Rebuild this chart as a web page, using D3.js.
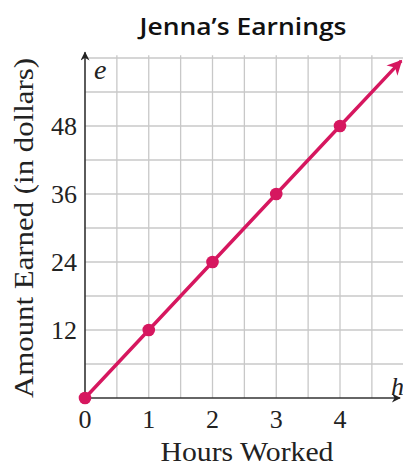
<!DOCTYPE html>
<html><head><meta charset="utf-8">
<script src="https://cdn.jsdelivr.net/npm/d3@7"></script>
<style>html,body{margin:0;padding:0;background:#fff;}svg{display:block;}</style>
</head><body>
<script>
const hours = [0, 1, 2, 3, 4];
const earnings = [0, 12, 24, 36, 48];
const xTicks = [0, 1, 2, 3, 4];
const yTicks = [12, 24, 36, 48];
const lineEnd = [4.96, 59.5];
const title = "Jenna\u2019s Earnings";
const xTitle = "Hours Worked";
const yTitle = "Amount Earned (in dollars)";

const W = 403, H = 466;
const svg = d3.select("body").append("svg").attr("width", W).attr("height", H);
const x = d3.scaleLinear().domain([0, 4]).range([85, 340]);
const y = d3.scaleLinear().domain([0, 48]).range([398, 126]);
const serif = "'Liberation Serif','Times New Roman',serif";

const defs = svg.append("defs");
function marker(id, color, w, h) {
  defs.append("marker").attr("id", id).attr("viewBox", "0 0 10 10").attr("refX", 9).attr("refY", 5)
    .attr("markerWidth", w).attr("markerHeight", h).attr("orient", "auto").attr("markerUnits", "userSpaceOnUse")
    .append("path").attr("d", "M0,0 L10,5 L0,10 L3,5 Z").attr("fill", color);
}
marker("ax", "#222", 13, 9);
marker("ln", "#d6175f", 19, 15);

// grid
const gx = d3.range(0.5, 5.01, 0.5);
const gy = d3.range(6, 60.1, 6);
svg.append("g").selectAll("line").data(gx).join("line")
  .attr("x1", d => x(d)).attr("x2", d => x(d)).attr("y1", y(60.5)).attr("y2", y(0))
  .attr("stroke", "#c8c8c8").attr("stroke-width", 1.3);
svg.append("g").selectAll("line").data(gy).join("line")
  .attr("x1", x(0)).attr("x2", W).attr("y1", d => y(d)).attr("y2", d => y(d))
  .attr("stroke", "#c8c8c8").attr("stroke-width", 1.3);

// axes
svg.append("line").attr("x1", x(0)).attr("y1", y(0)).attr("x2", x(0)).attr("y2", y(61))
  .attr("stroke", "#333").attr("stroke-width", 1.6).attr("marker-end", "url(#ax)");
svg.append("line").attr("x1", x(0)).attr("y1", y(0)).attr("x2", 400).attr("y2", y(0))
  .attr("stroke", "#333").attr("stroke-width", 1.6).attr("marker-end", "url(#ax)");

// tick labels
svg.append("g").selectAll("text").data(xTicks).join("text")
  .attr("x", d => x(d)).attr("y", 428).attr("text-anchor", "middle")
  .attr("font-family", serif).attr("font-size", 26).attr("fill", "#222").text(d => d);
svg.append("g").selectAll("text").data(yTicks).join("text")
  .attr("x", 77).attr("y", d => y(d) + 9).attr("text-anchor", "end")
  .attr("font-family", serif).attr("font-size", 26).attr("fill", "#222").text(d => d);

// axis letter labels
svg.append("text").attr("x", 94).attr("y", 79).attr("font-family", serif).attr("font-style", "italic")
  .attr("font-size", 28).attr("fill", "#222").text("e");
svg.append("text").attr("x", 391).attr("y", 395).attr("font-family", serif).attr("font-style", "italic")
  .attr("font-size", 26).attr("fill", "#222").text("h");

// line
const pts = hours.map((h, i) => [h, earnings[i]]).concat([lineEnd]);
svg.append("path").datum(pts)
  .attr("d", d3.line().x(d => x(d[0])).y(d => y(d[1])))
  .attr("fill", "none").attr("stroke", "#d6175f").attr("stroke-width", 3.4)
  .attr("marker-end", "url(#ln)");
svg.append("g").selectAll("circle").data(hours).join("circle")
  .attr("cx", d => x(d)).attr("cy", (d, i) => y(earnings[i])).attr("r", 6.3)
  .attr("fill", "#d6175f");

// titles
svg.append("text").attr("x", 243).attr("y", 35).attr("text-anchor", "middle")
  .attr("font-family", "'Open Sans','Noto Sans',sans-serif").attr("font-weight", 600)
  .attr("font-size", 24).attr("fill", "#111").attr("textLength", 207).attr("lengthAdjust", "spacingAndGlyphs")
  .text(title);
svg.append("text").attr("x", 247).attr("y", 461).attr("text-anchor", "middle")
  .attr("font-family", serif).attr("font-size", 27).attr("fill", "#222")
  .attr("textLength", 173).attr("lengthAdjust", "spacingAndGlyphs").text(xTitle);
svg.append("text").attr("transform", "translate(33,228) rotate(-90)").attr("text-anchor", "middle")
  .attr("font-family", serif).attr("font-size", 27).attr("fill", "#222")
  .attr("textLength", 340).attr("lengthAdjust", "spacingAndGlyphs").text(yTitle);
</script>
</body></html>
